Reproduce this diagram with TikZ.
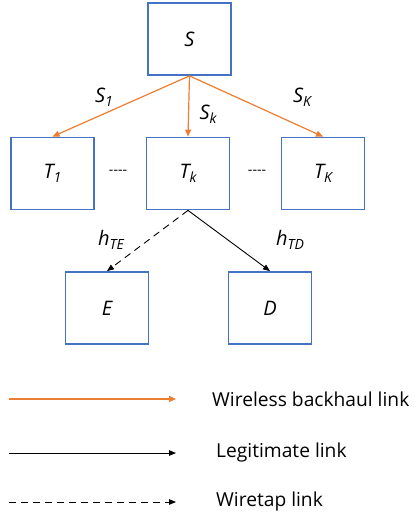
\documentclass[tikz,border=0pt]{standalone}
\usepackage{fontspec}
\setmainfont{Open Sans}
\usepackage{tikz}
\usetikzlibrary{positioning}
\usetikzlibrary{arrows.meta}

\definecolor{boxblue}{HTML}{4472C4}
\definecolor{linkorange}{HTML}{ED7D31}
\newcommand{\lsub}[1]{\raisebox{-0.4ex}{\fontsize{14}{15}\selectfont #1}}

\tikzset{
	unit/.style={draw=boxblue, line width=1.8pt, minimum width=83pt, minimum height=72pt, font=\fontsize{20}{22}\selectfont\itshape},
	lbl/.style={font=\fontsize{20}{22}\selectfont\itshape, inner sep=0pt},
	backhaul/.style={draw=linkorange, line width=1.2pt, -{Triangle[length=7pt,width=6pt]}},
	legit/.style={draw=black, line width=0.9pt, -{Triangle[length=7pt,width=5.5pt]}},
	wiretap/.style={legit, dash pattern=on 7pt off 5pt},
	legtext/.style={anchor=west, inner sep=0pt, font=\fontsize{19.2}{22}\selectfont}
}

\begin{document}
\begin{tikzpicture}[x=1pt,y=1pt]
			\useasboundingbox (0,0) rectangle (416,-518);
			\node at (189.5,-39) (S) [unit] {S} ;
			\node at (52.5,-173.5) (T1) [unit] {T\lsub{1}} ;
			\node at (188,-173.5) (Tk) [unit] {T\lsub{k}} ;
			\node at (323,-173.5) (TK) [unit] {T\lsub{K}} ;
			\node at (107,-308) (E) [unit] {E} ;
			\node at (270,-308) (D) [unit] {D} ;
			\node at (118,-172) (dotsl) [font=\fontsize{14}{14}\selectfont] {-{}-{}-{}-} ;
			\node at (257,-172) (dotsr) [font=\fontsize{14}{14}\selectfont] {-{}-{}-{}-} ;
			\draw [backhaul] (S.south) -- (T1.north); \draw [backhaul] (S.south) -- (Tk.north); \draw [backhaul] (S.south) -- (TK.north);
			\draw [wiretap] (Tk.south) -- (E.north); \draw [legit] (Tk.south) -- (D.north);
			\node at (104,-97) (s1lbl) [lbl] {S\lsub{1}} ;
			\node at (208,-114) (sklbl) [lbl] {S\lsub{k}} ;
			\node at (302,-97) (sKlbl) [lbl] {S\lsub{K}} ;
			\node at (111,-240) (hTElbl) [lbl] {h\lsub{TE}} ;
			\node at (290,-240) (hTDlbl) [lbl] {h\lsub{TD}} ;
			% legend
			\coordinate (bh1) at (9,-399); \coordinate (bh2) at (176,-399);
			\coordinate (lg1) at (9,-453); \coordinate (lg2) at (176,-453);
			\coordinate (wt1) at (9,-502); \coordinate (wt2) at (176,-502);
			\draw [backhaul] (bh1) -- (bh2); \draw [legit] (lg1) -- (lg2); \draw [wiretap] (wt1) -- (wt2);
			\node at (212,-399) (bhtext) [legtext] {Wireless backhaul link};
			\node at (216,-453) (lgtext) [legtext] {Legitimate link};
			\node at (216,-502) (wttext) [legtext] {Wiretap link};
\end{tikzpicture}
\end{document}
